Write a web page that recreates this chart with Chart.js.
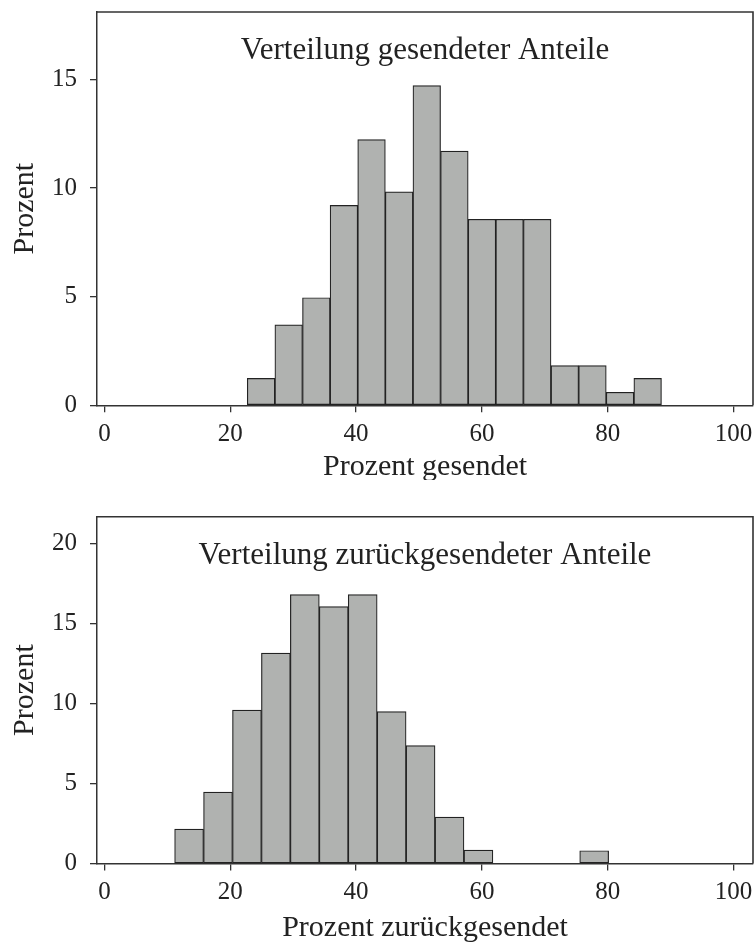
<!DOCTYPE html>
<html lang="de">
<head>
  <meta charset="UTF-8">
  <title>Verteilung gesendeter und zurückgesendeter Anteile</title>
  <script src="https://cdn.jsdelivr.net/npm/chart.js@4.4.1/dist/chart.umd.min.js"></script>
  <style>
    body { margin: 0; background: #fff; }
    canvas { display: block; }
  </style>
</head>
<body>

<canvas id="graficoGesendet" width="756" height="480"></canvas>
<canvas id="graficoZurueck" width="756" height="465"></canvas>

<script>
  // Achsenbeschriftung (gemeinsam)
  const xTicks = [0, 20, 40, 60, 80, 100];

  // Oberes Histogramm: Prozent gesendet
  const kantenGesendet = [22.70, 27.09, 31.48, 35.87, 40.26, 44.65, 49.04, 53.43, 57.82, 62.21, 66.60, 70.99, 75.38, 79.77, 84.16, 88.55];
  const prozentGesendet = [1.24, 3.70, 4.95, 9.20, 12.23, 9.82, 14.71, 11.70, 8.56, 8.56, 8.56, 1.83, 1.83, 0.60, 1.24];
  const yTicksGesendet = [0, 5, 10, 15];

  // Unteres Histogramm: Prozent zurückgesendet
  const kantenZurueck = [11.15, 15.75, 20.35, 24.95, 29.55, 34.15, 38.75, 43.35, 47.95, 52.55, 57.15, 61.75, 66.35, 70.95, 75.55, 80.15];
  const prozentZurueck = [2.15, 4.47, 9.60, 13.17, 16.83, 16.08, 16.83, 9.51, 7.38, 2.90, 0.84, 0, 0, 0, 0.80];
  const yTicksZurueck = [0, 5, 10, 15, 20];

  const schrift = "'Liberation Serif', 'Times New Roman', serif";
  Chart.defaults.font.family = schrift;
  Chart.defaults.color = '#222';

  // Titel im Plotbereich + Rahmen oben/rechts
  const innenTitel = {
    id: 'innenTitel',
    afterDraw(chart, args, opts) {
      const { ctx, chartArea } = chart;
      ctx.save();
      ctx.strokeStyle = '#333';
      ctx.lineWidth = 1.6;
      ctx.beginPath();
      ctx.moveTo(chartArea.left, chartArea.top);
      ctx.lineTo(chartArea.right, chartArea.top);
      ctx.lineTo(chartArea.right, chartArea.bottom);
      ctx.stroke();
      ctx.font = '31px ' + schrift;
      ctx.fillStyle = '#222';
      ctx.textAlign = 'center';
      ctx.textBaseline = 'alphabetic';
      ctx.fillText(opts.text, (chartArea.left + chartArea.right) / 2, chartArea.top + 47);
      ctx.restore();
    }
  };

  function histogramm(id, kanten, werte, yTicks, yMax, titel, xTitel, obenPad, xHoehe, xTitelPad) {
    const punkte = werte.map((w, i) => ({ x: (kanten[i] + kanten[i + 1]) / 2, y: w }));
    const ctx = document.getElementById(id).getContext('2d');
    return new Chart(ctx, {
      type: 'bar',
      data: {
        datasets: [{
          data: punkte,
          backgroundColor: '#b0b2b0',
          borderColor: '#222',
          borderWidth: 1.2,
          borderSkipped: false,
          barPercentage: 1,
          categoryPercentage: 1
        }]
      },
      options: {
        responsive: false,
        animation: false,
        layout: { padding: { top: obenPad, right: 3, left: 0, bottom: 0 } },
        plugins: {
          legend: { display: false },
          tooltip: { enabled: false },
          innenTitel: { text: titel }
        },
        scales: {
          x: {
            type: 'linear',
            offset: false,
            min: -1.19,
            max: 103.1,
            afterBuildTicks: (s) => { s.ticks = xTicks.map(v => ({ value: v })); },
            afterFit: (s) => { s.height = xHoehe; s.paddingLeft = 0; s.paddingRight = 0; },
            grid: { display: true, offset: false, drawOnChartArea: false, drawTicks: true, tickLength: 7, color: '#333', lineWidth: 1.3 },
            border: { display: true, color: '#333', width: 1.5 },
            ticks: { font: { size: 25 }, padding: 7, maxRotation: 0, color: '#222' },
            title: { display: true, text: xTitel, font: { size: 30, lineHeight: 0.8 }, padding: { top: 0, bottom: xTitelPad }, color: '#222' }
          },
          y: {
            min: 0,
            max: yMax,
            afterBuildTicks: (s) => { s.ticks = yTicks.map(v => ({ value: v })); },
            afterFit: (s) => { s.width = 97; s.paddingTop = 0; s.paddingBottom = 0; },
            grid: { display: true, offset: false, drawOnChartArea: false, drawTicks: true, tickLength: 7, color: '#333', lineWidth: 1.3 },
            border: { display: true, color: '#333', width: 1.5 },
            ticks: { font: { size: 25 }, padding: 13, color: '#222' },
            title: { display: true, text: 'Prozent', font: { size: 30, lineHeight: 0.8 }, padding: { top: 13.5, bottom: 0 }, color: '#222' }
          }
        }
      },
      plugins: [innenTitel]
    });
  }

  histogramm('graficoGesendet', kantenGesendet, prozentGesendet, yTicksGesendet, 18.1,
    'Verteilung gesendeter Anteile', 'Prozent gesendet', 12, 74.7, 0.6);

  histogramm('graficoZurueck', kantenZurueck, prozentZurueck, yTicksZurueck, 21.7,
    'Verteilung zurückgesendeter Anteile', 'Prozent zurückgesendet', 36.7, 81.5, 4.4);
</script>

</body>
</html>
